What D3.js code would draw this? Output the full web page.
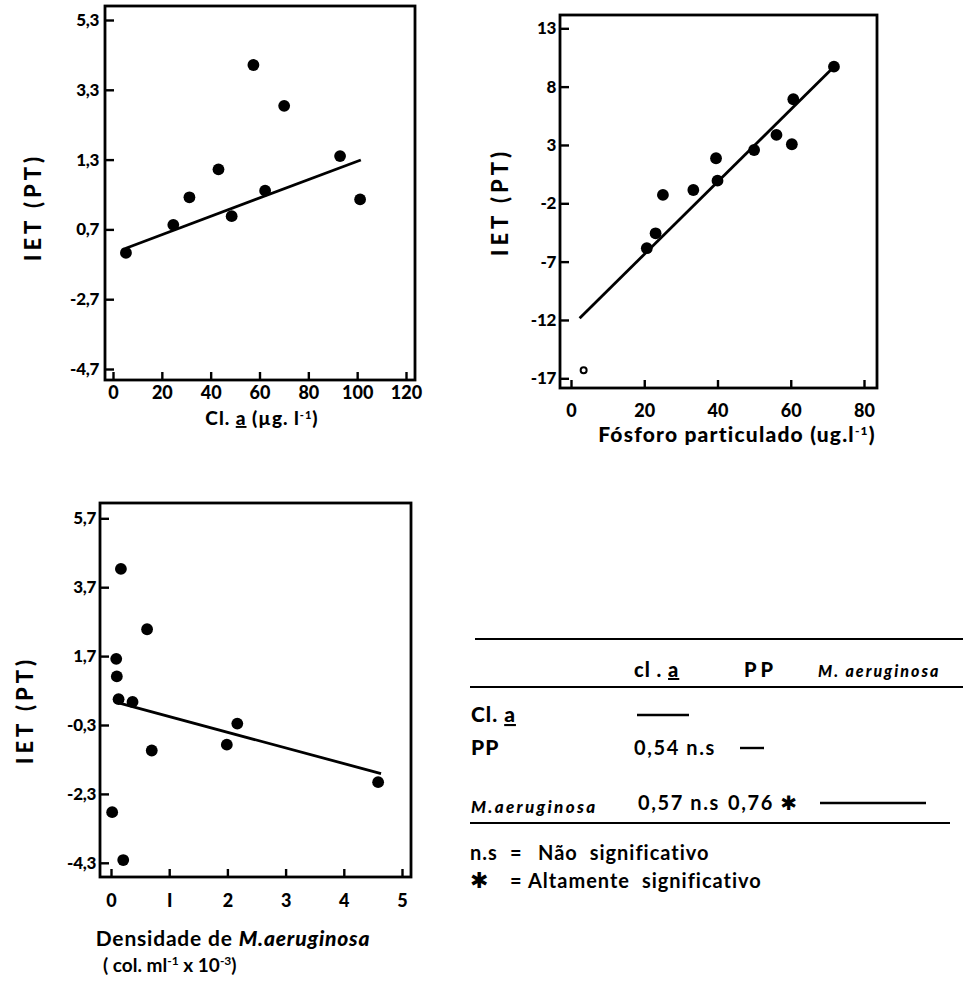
<!DOCTYPE html>
<html>
<head>
<meta charset="utf-8">
<script src="https://cdn.jsdelivr.net/npm/d3@7"></script>
<style>
  html, body { margin: 0; padding: 0; background: #fff; }
  svg { display: block; }
  text { font-family: Lato, "DejaVu Sans", sans-serif; font-weight: 900; fill: #000; }
</style>
</head>
<body>
<svg id="chart" width="963" height="988"></svg>
<script>
// ---------- DATA ----------
// Panel 1: Cl. a vs IET(PT)
const clgX = [5.3, 24.7, 31.3, 43.2, 48.6, 57.5, 62.3, 70.1, 93.0, 101.2];
const clgY = [-1.37, -0.57, 0.22, 1.02, -0.32, 4.01, 0.41, 2.84, 1.40, 0.16];
const clgFitX = [5.3, 101.5];
const clgFitY = [-1.24, 1.29];
const clgXTicks = [0, 20, 40, 60, 80, 100, 120];
const clgYTicks = [5.3, 3.3, 1.3, -0.7, -2.7, -4.7];
const clgYTickLabels = ["5,3", "3,3", "1,3", "0,7", "-2,7", "-4,7"];

// Panel 2: Fósforo particulado vs IET(PT)
const ppX = [20.7, 23.1, 25.1, 33.4, 39.6, 40.0, 50.0, 56.1, 60.3, 60.7, 71.8];
const ppY = [-5.85, -4.57, -1.28, -0.86, 1.86, -0.06, 2.57, 3.86, 3.06, 6.92, 9.71];
const ppOpenX = [3.45];
const ppOpenY = [-16.3];
const ppFitX = [2.35, 71.4];
const ppFitY = [-11.85, 9.57];
const ppXTicks = [0, 20, 40, 60, 80];
const ppYTicks = [13, 8, 3, -2, -7, -12, -17];
const ppYTickLabels = ["13", "8", "3", "-2", "-7", "-12", "-17"];

// Panel 3: Densidade de M. aeruginosa vs IET(PT)
const maX = [0.17, 0.62, 0.09, 0.10, 0.13, 0.37, 2.17, 1.99, 0.70, 4.59, 0.02, 0.21];
const maY = [4.23, 2.48, 1.62, 1.11, 0.45, 0.37, -0.26, -0.87, -1.04, -1.96, -2.83, -4.22];
const maFitX = [0.13, 4.64];
const maFitY = [0.34, -1.71];
const maXTicks = [0, 1, 2, 3, 4, 5];
const maXTickLabels = ["0", "I", "2", "3", "4", "5"];
const maYTicks = [5.7, 3.7, 1.7, -0.3, -2.3, -4.3];
const maYTickLabels = ["5,7", "3,7", "1,7", "-0,3", "-2,3", "-4,3"];

// Correlation table
const tableCols = ["cl.", "PP", "M. aeruginosa"];
const tableRows = ["Cl.", "PP", "M.aeruginosa"];
const tableValues = [[null, null, null], ["0,54 n.s", null, null], ["0,57 n.s", "0,76 \u2731", null]];
const legendKeys = ["n.s", "\u2731"];
const legendTexts = ["N\u00e3o significativo", "Altamente significativo"];

// ---------- DRAW ----------
const svg = d3.select("#chart");

function panel(cfg) {
  const g = svg.append("g");
  const x = d3.scaleLinear().domain(cfg.xDom).range(cfg.xRange);
  const y = d3.scaleLinear().domain(cfg.yDom).range(cfg.yRange);

  g.append("rect")
    .attr("x", cfg.box[0]).attr("y", cfg.box[1])
    .attr("width", cfg.box[2] - cfg.box[0]).attr("height", cfg.box[3] - cfg.box[1])
    .attr("fill", "none").attr("stroke", "#000").attr("stroke-width", 2.8);

  const ya = g.append("g").attr("transform", `translate(${cfg.box[0]},0)`)
    .call(d3.axisLeft(y).tickValues(cfg.yTicks)
      .tickFormat((d, i) => cfg.yLabels[i]).tickSize(-9).tickPadding(cfg.yPad));
  ya.select(".domain").remove();
  ya.selectAll("line").attr("stroke", "#000").attr("stroke-width", 2.4);
  ya.selectAll("text").style("font-size", "17px").style("font-weight", 900)
    .style("font-family", "Lato, sans-serif").attr("fill", "#000").attr("letter-spacing", "-0.3px");

  const xa = g.append("g").attr("transform", `translate(0,${cfg.box[3]})`)
    .call(d3.axisBottom(x).tickValues(cfg.xTicks)
      .tickFormat((d, i) => cfg.xLabels ? cfg.xLabels[i] : String(d)).tickSize(-8).tickPadding(cfg.xPad));
  xa.select(".domain").remove();
  xa.selectAll("line").attr("stroke", "#000").attr("stroke-width", 2.4);
  xa.selectAll("text").style("font-size", "18px").style("font-weight", 900)
    .style("font-family", "Lato, sans-serif").attr("fill", "#000");

  const line = d3.line().x(d => x(d[0])).y(d => y(d[1]));
  g.append("path").datum(d3.zip(cfg.fitX, cfg.fitY))
    .attr("d", line).attr("fill", "none").attr("stroke", "#000").attr("stroke-width", 2.8);

  g.selectAll("circle.pt").data(d3.zip(cfg.px, cfg.py)).join("circle")
    .attr("class", "pt").attr("cx", d => x(d[0])).attr("cy", d => y(d[1]))
    .attr("r", 5.9).attr("fill", "#000");

  if (cfg.ox) {
    g.selectAll("circle.op").data(d3.zip(cfg.ox, cfg.oy)).join("circle")
      .attr("class", "op").attr("cx", d => x(d[0])).attr("cy", d => y(d[1]))
      .attr("r", 3).attr("fill", "#fff").attr("stroke", "#000").attr("stroke-width", 2);
  }

  g.append("text")
    .attr("transform", `translate(${cfg.yTitle[0]},${cfg.yTitle[1]}) rotate(-90)`)
    .attr("text-anchor", "middle")
    .style("font-size", "22px").attr("letter-spacing", "4px")
    .text("IET (PT)");
  return { g, x, y };
}

panel({
  box: [105, 6, 415, 380], xDom: [0, 120], xRange: [113, 406], yDom: [-4.7, 5.3], yRange: [369, 20],
  xTicks: clgXTicks, yTicks: clgYTicks, yLabels: clgYTickLabels, yPad: 6, xPad: 6,
  fitX: clgFitX, fitY: clgFitY, px: clgX, py: clgY, yTitle: [41, 207]
});
{
  const t = svg.append("text").attr("x", 262).attr("y", 425).attr("text-anchor", "middle")
    .style("font-size", "19px").attr("letter-spacing", "1px");
  t.append("tspan").text("Cl. ");
  t.append("tspan").attr("text-decoration", "underline").text("a");
  t.append("tspan").text(" (\u00b5g. l");
  t.append("tspan").attr("dy", -6).style("font-size", "11px").text("-1");
  t.append("tspan").attr("dy", 6).text(")");
}

panel({
  box: [560, 15, 877, 388], xDom: [0, 80], xRange: [571, 864], yDom: [-17, 13], yRange: [378.3, 28.3],
  xTicks: ppXTicks, yTicks: ppYTicks, yLabels: ppYTickLabels, yPad: 4, xPad: 16,
  fitX: ppFitX, fitY: ppFitY, px: ppX, py: ppY, ox: ppOpenX, oy: ppOpenY, yTitle: [508, 202]
});
{
  const t = svg.append("text").attr("x", 737).attr("y", 442).attr("text-anchor", "middle")
    .style("font-size", "21px").attr("letter-spacing", "1.2px");
  t.append("tspan").text("F\u00f3sforo particulado (ug.l");
  t.append("tspan").attr("dy", -7).style("font-size", "12px").text("-1");
  t.append("tspan").attr("dy", 7).text(")");
}

panel({
  box: [100, 503, 411, 877], xDom: [0, 5], xRange: [111, 402], yDom: [-4.3, 5.7], yRange: [862.8, 518.3],
  xTicks: maXTicks, xLabels: maXTickLabels, yTicks: maYTicks, yLabels: maYTickLabels, yPad: 4, xPad: 17,
  fitX: maFitX, fitY: maFitY, px: maX, py: maY, yTitle: [33, 710]
});
{
  const t = svg.append("text").attr("x", 233).attr("y", 946).attr("text-anchor", "middle")
    .style("font-size", "21px").style("font-weight", 700).attr("letter-spacing", "0.8px");
  t.append("tspan").text("Densidade de ");
  t.append("tspan").style("font-style", "italic").style("font-weight", 900).text("M.aeruginosa");
  const t2 = svg.append("text").attr("x", 103).attr("y", 972).style("font-size", "19px").style("font-weight", 700);
  t2.append("tspan").text("( col. ml");
  t2.append("tspan").attr("dy", -7).style("font-size", "12px").text("-1");
  t2.append("tspan").attr("dy", 7).text(" x 10");
  t2.append("tspan").attr("dy", -7).style("font-size", "12px").text("-3");
  t2.append("tspan").attr("dy", 7).text(")");
}

// ---------- TABLE ----------
const tg = svg.append("g");
const hline = (x1, x2, yy) => tg.append("line").attr("x1", x1).attr("x2", x2).attr("y1", yy).attr("y2", yy)
  .attr("stroke", "#000").attr("stroke-width", 2.2);
hline(475, 963, 639);
hline(470, 963, 687);
hline(470, 950, 823);

const colX = [634, 744, 818];
const rowY = [722, 755, 813];
tableCols.forEach((c, i) => {
  const t = tg.append("text").attr("x", colX[i]).attr("y", 677);
  if (i === 0) {
    t.style("font-size", "20px").attr("letter-spacing", "1px");
    t.append("tspan").text("cl . ");
    t.append("tspan").attr("text-decoration", "underline").text("a");
  } else if (i === 1) {
    t.style("font-size", "20px").attr("letter-spacing", "4px").text(c);
  } else {
    t.style("font-size", "16px").style("font-style", "italic").attr("letter-spacing", "2px").text(c);
  }
});
tableRows.forEach((r, i) => {
  const t = tg.append("text").attr("x", 471).attr("y", rowY[i]);
  if (i === 0) {
    t.style("font-size", "21px").attr("letter-spacing", "1px");
    t.append("tspan").text("Cl. ");
    t.append("tspan").attr("text-decoration", "underline").text("a");
  } else if (i === 1) {
    t.style("font-size", "21px").attr("letter-spacing", "1px").text(r);
  } else {
    t.style("font-size", "17px").style("font-style", "italic").attr("letter-spacing", "2.3px").text(r);
  }
});
const valX = [[null], [634], [638, 728]];
tableValues.forEach((row, i) => {
  row.forEach((v, j) => {
    if (v) tg.append("text").attr("x", valX[i][j]).attr("y", i === 2 ? 810 : rowY[i])
      .style("font-size", "20px").style("font-weight", 700).attr("letter-spacing", "1.6px").text(v);
  });
});
tg.append("line").attr("x1", 637).attr("x2", 689).attr("y1", 715).attr("y2", 715).attr("stroke", "#000").attr("stroke-width", 2.4);
tg.append("line").attr("x1", 740).attr("x2", 764).attr("y1", 748).attr("y2", 748).attr("stroke", "#000").attr("stroke-width", 2.4);
tg.append("line").attr("x1", 820).attr("x2", 926).attr("y1", 803).attr("y2", 803).attr("stroke", "#000").attr("stroke-width", 2.4);

legendKeys.forEach((k, i) => {
  const yy = 860 + i * 28;
  tg.append("text").attr("x", 470).attr("y", yy).style("font-size", i === 0 ? "20px" : "22px")
    .style("font-weight", 700).attr("letter-spacing", "1px").text(k);
  tg.append("text").attr("x", 510).attr("y", yy).style("font-size", "20px").style("font-weight", 700).text("=");
  tg.append("text").attr("x", i === 0 ? 538 : 528).attr("y", yy).style("font-size", "20px")
    .style("font-weight", 700).attr("letter-spacing", "1px").attr("word-spacing", "6px").text(legendTexts[i]);
});
</script>
</body>
</html>
